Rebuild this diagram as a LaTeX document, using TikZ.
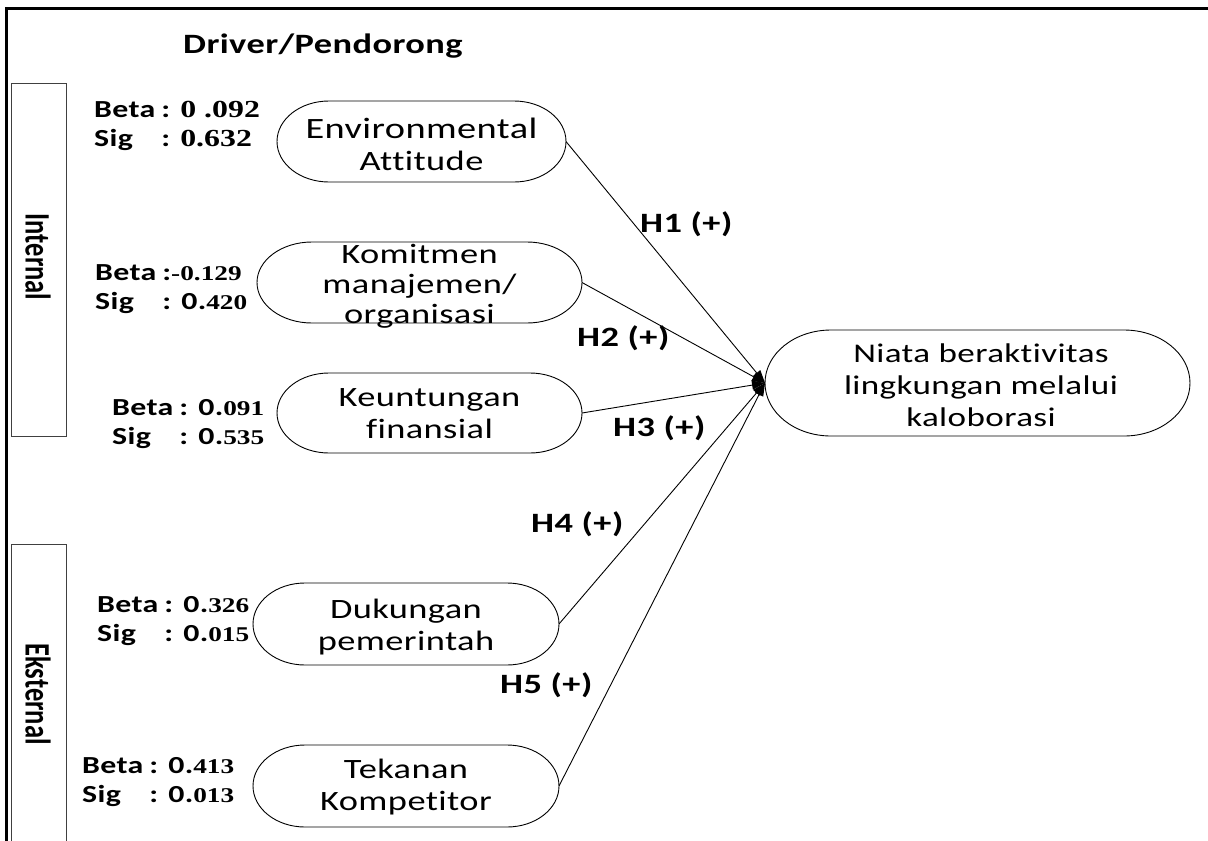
\documentclass[tikz,border=0pt]{standalone}
\usepackage{fontspec}
\usetikzlibrary{arrows.meta}
\newfontfamily\calib{Carlito}[FakeStretch=1.3, Ligatures=CommonOff, LetterSpace=1.5]
\newfontfamily\calibtall{Carlito}[Ligatures=CommonOff]
\newfontfamily\numserif{Liberation Serif}[FakeStretch=1.3]
\newcommand\nm[1]{{\numserif\bfseries #1}}
\newcommand\nms[1]{{\numserif\bfseries\fontsize{21}{29}\selectfont #1}}
% outline of a box with elliptical ends: node, half height, end radius
\newcommand\stadiumline[3]{%
  \draw[outline] ([shift={(#3pt,#2pt)}]#1.west) -- ([shift={(-#3pt,#2pt)}]#1.east)
    arc[start angle=90,end angle=-90,x radius=#3pt,y radius=#2pt]
    -- ([shift={(#3pt,-#2pt)}]#1.west)
    arc[start angle=270,end angle=90,x radius=#3pt,y radius=#2pt] -- cycle;}
\tikzset{
  shapebox/.style={rectangle, draw=none, inner sep=0pt, outer sep=0pt},
  outline/.style={draw=black, line width=0.9pt},
  inner/.style={font=\calib\fontsize{28}{32}\selectfont, align=center, inner sep=0pt},
  hyp/.style={font=\calib\bfseries\fontsize{28}{30}\selectfont, anchor=base west, inner sep=0pt},
  coef/.style={font=\calib\bfseries\fontsize{24.5}{29}\selectfont, anchor=base west, inner sep=0pt},
  link/.style={line width=0.9pt, -{Triangle[length=13pt,width=9pt]}},
  side/.style={draw=black!75, line width=1pt},
  sidetext/.style={font=\calibtall\bfseries\fontsize{26.5}{28}\selectfont, rotate=-90, inner sep=0pt},
  frame/.style={line width=3.2pt},
}
\begin{document}
\begin{tikzpicture}[x=1pt,y=-1pt]
\useasboundingbox (0,0) rectangle (1208,841);
% outer frame
\draw[frame] (5,8.5) -- (1208,8.5);
\draw[frame] (6.5,7) -- (6.5,841);
% side panels
\draw[side] (11,83) rectangle (66,436);
\draw[side] (11,841) -- (11,544) -- (66,544) -- (66,841);
\node[sidetext] (intl) at (38,257) {\scalebox{1}[1.35]{Internal}};
\node[sidetext] (extl) at (38,694) {\scalebox{1}[1.35]{Eksternal}};
% title
\node[font=\calib\bfseries\fontsize{28}{30}\selectfont, anchor=base west, inner sep=0pt] (title) at (183,53) {Driver/Pendorong};

% driver boxes
\node[shapebox, minimum width=289pt, minimum height=81pt] (env) at (421.5,141.5) {};
\stadiumline{env}{40.5}{52}
\node[inner] (envt) at (421.5,144) {\fontsize{29.5}{32}\selectfont Environmental\\Attitude};

\node[shapebox, minimum width=325pt, minimum height=81pt] (kom) at (419.5,282.5) {};
\stadiumline{kom}{40.5}{55}
\node[inner, font=\calib\fontsize{28}{30}\selectfont] (komt) at (419.5,286) {Komitmen\\manajemen/\\organisasi};

\node[shapebox, minimum width=305pt, minimum height=80pt] (keu) at (429.5,413) {};
\stadiumline{keu}{40}{52}
\node[inner] (keut) at (429.5,414) {Keuntungan\\finansial};

\node[shapebox, minimum width=306pt, minimum height=82pt] (duk) at (406,624) {};
\stadiumline{duk}{41}{52}
\node[inner] (dukt) at (406,627) {Dukungan\\pemerintah};

\node[shapebox, minimum width=306pt, minimum height=82pt] (tek) at (406,786) {};
\stadiumline{tek}{41}{52}
\node[inner] (tekt) at (406,787) {Tekanan\\Kompetitor};

% outcome box
\node[shapebox, minimum width=425pt, minimum height=106pt] (nia) at (977.5,383) {};
\stadiumline{nia}{53}{66}
\node[inner, font=\calib\fontsize{27}{32}\selectfont] (niat) at (981,385.5) {Niata beraktivitas\\lingkungan melalui\\kaloborasi};

% coefficients
\node[coef] (c1) at (94,117) {\begin{tabular}[t]{@{}l@{\hspace{6pt}}l@{}}Beta & : \nm{0 .092}\\ Sig & : \nm{0.632}\end{tabular}};
\node[coef] (c2) at (95,280) {\begin{tabular}[t]{@{}l@{\hspace{6pt}}l@{}}Beta & :\nms{-0.129}\\ Sig & : 0.\nms{420}\end{tabular}};
\node[coef] (c3) at (112,415) {\begin{tabular}[t]{@{}l@{\hspace{6pt}}l@{}}Beta & : 0.\nms{091}\\ Sig & : 0.\nms{535}\end{tabular}};
\node[coef] (c4) at (97,612) {\begin{tabular}[t]{@{}l@{\hspace{6pt}}l@{}}Beta & : 0.\nms{326}\\ Sig & : 0.\nms{015}\end{tabular}};
\node[coef] (c5) at (82,773) {\begin{tabular}[t]{@{}l@{\hspace{6pt}}l@{}}Beta & : 0.\nms{413}\\ Sig & : 0.\nms{013}\end{tabular}};

% hypothesis paths
\draw[link] (env.east) -- (nia.west);
\draw[link] (kom.east) -- (nia.west);
\draw[link] (keu.east) -- (nia.west);
\draw[link] (duk.east) -- (nia.west);
\draw[link] (tek.east) -- (nia.west);

\node[hyp] (h1) at (640,232) {H1 (+)};
\node[hyp] (h2) at (577,346) {H2 (+)};
\node[hyp] (h3) at (613,436) {H3 (+)};
\node[hyp] (h4) at (531,532) {H4 (+)};
\node[hyp] (h5) at (500,693) {H5 (+)};
\end{tikzpicture}
\end{document}
